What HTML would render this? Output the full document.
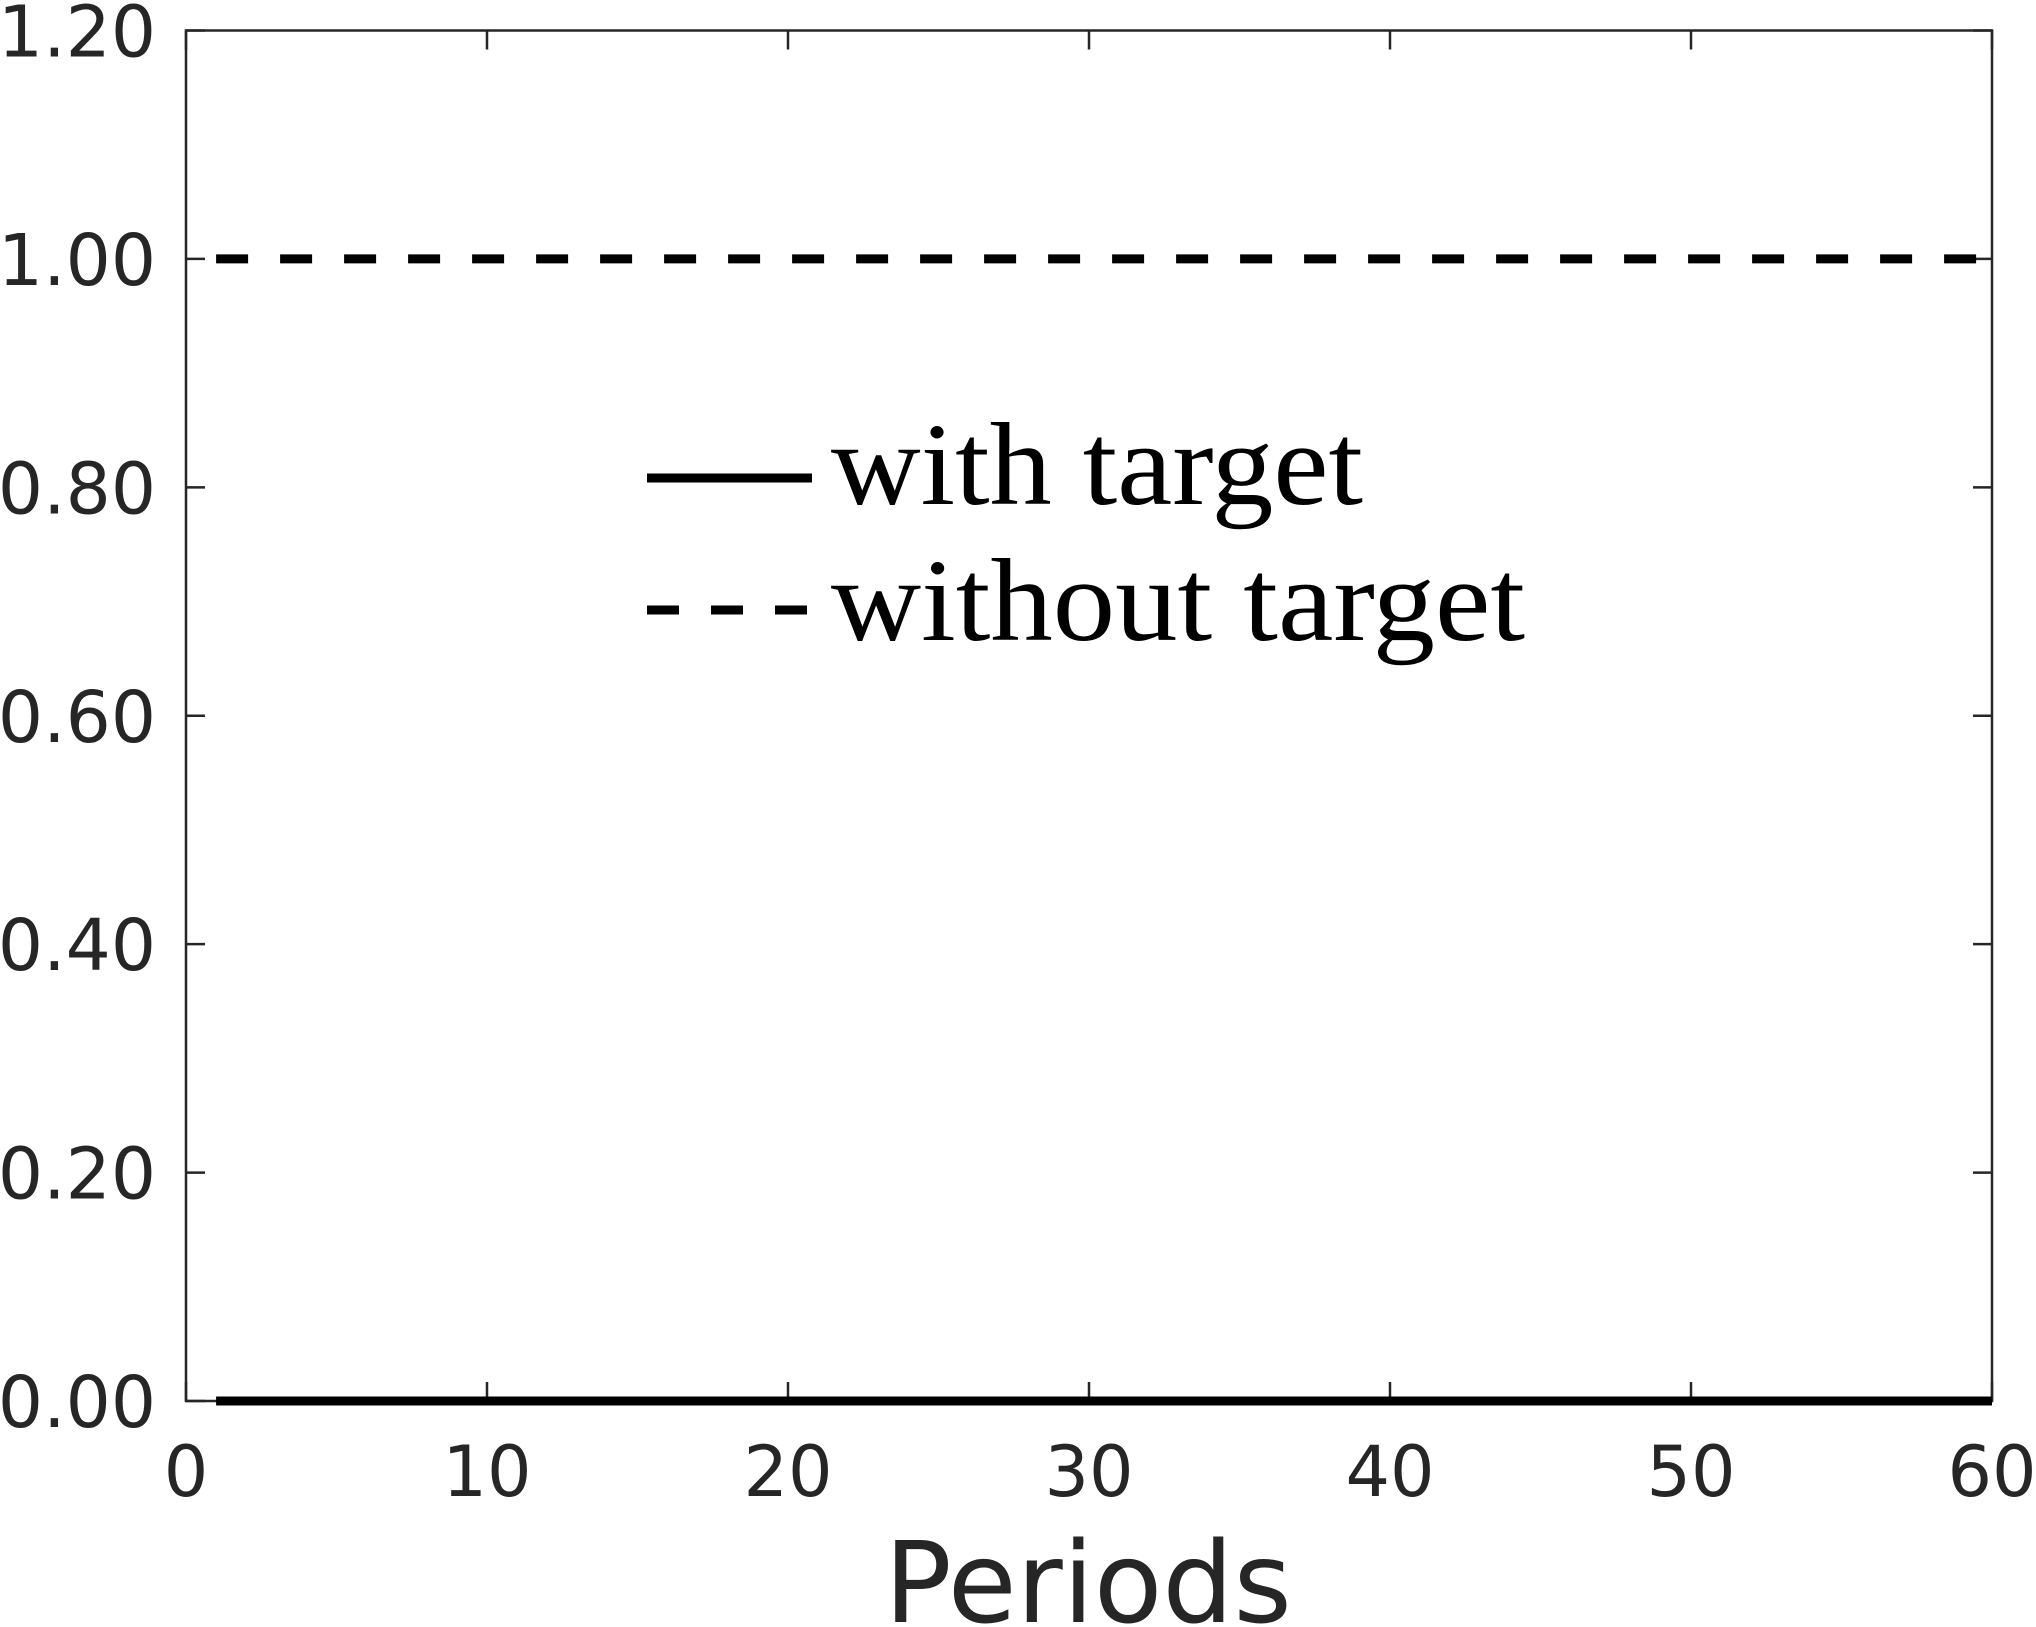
<!DOCTYPE html>
<html><head><meta charset="utf-8"><style>html,body{margin:0;padding:0;background:#fff}svg{display:block}</style></head>
<body>
<svg id="chart" width="2036" height="1627" viewBox="0 0 2036 1627" xmlns="http://www.w3.org/2000/svg">
<g id="axes"></g>
<g id="series"></g>
<g>
  <line x1="647" y1="478" x2="812" y2="478" stroke="#000" stroke-width="9"/>
  <text x="831" y="504" font-family="Liberation Serif, serif" font-size="118" textLength="532" lengthAdjust="spacingAndGlyphs">with target</text>
  <line x1="647" y1="610" x2="812" y2="610" stroke="#000" stroke-width="9" stroke-dasharray="32,32"/>
  <text x="831" y="640" font-family="Liberation Serif, serif" font-size="118" textLength="694" lengthAdjust="spacingAndGlyphs">without target</text>
</g>
<text x="1088" y="1622" text-anchor="middle" font-family="DejaVu Sans, sans-serif" font-size="112" fill="#262626">Periods</text>
</svg>
<script>
const xTicks = [0,10,20,30,40,50,60];
const yTicks = [0,0.2,0.4,0.6,0.8,1.0,1.2];
const yTickLabels = ["0.00","0.20","0.40","0.60","0.80","1.00","1.20"];
const periods = Array.from({length:60},(_,i)=>i+1);
const withTarget = periods.map(()=>0);
const withoutTarget = periods.map(()=>1);
const L=186,R=1992,T=30.5,B=1401;
const xs=v=>L+(v-0)/(60-0)*(R-L);
const ys=v=>B-(v-0)/(1.2-0)*(B-T);
const NS='http://www.w3.org/2000/svg';
const ax=document.getElementById('axes'), se=document.getElementById('series');
function mk(tag,attrs,parent){const e=document.createElementNS(NS,tag);for(const k in attrs)e.setAttribute(k,attrs[k]);parent.appendChild(e);return e;}
const box=mk('rect',{x:L,y:T,width:R-L,height:B-T,fill:'none',stroke:'#262626','stroke-width':2.5},ax);


xTicks.forEach(t=>{
  const x=xs(t);
  const a=mk('line',{x1:x,y1:B,x2:x,y2:B-19,stroke:'#262626','stroke-width':2.5},ax);
  
  
  const b=mk('line',{x1:x,y1:T,x2:x,y2:T+19,stroke:'#262626','stroke-width':2.5},ax);
  
  
  const tx=mk('text',{x:x,y:1496,'text-anchor':'middle','font-family':'DejaVu Sans, sans-serif','font-size':70,fill:'#262626'},ax);
  tx.textContent=t;
  
  
});
yTicks.forEach((t,i)=>{
  const y=ys(t);
  const a=mk('line',{x1:L,y1:y,x2:L+19,y2:y,stroke:'#262626','stroke-width':2.5},ax);
  
  
  const b=mk('line',{x1:R,y1:y,x2:R-19,y2:y,stroke:'#262626','stroke-width':2.5},ax);
  
  
  const tx=mk('text',{x:156,y:y+26,'text-anchor':'end','font-family':'DejaVu Sans, sans-serif','font-size':71,fill:'#262626'},ax);
  tx.textContent=yTickLabels[i];
  
  
});
function path(vals){return periods.map((p,i)=>(i?'L':'M')+xs(p)+','+ys(vals[i])).join(' ');}
const p2=mk('path',{d:path(withoutTarget),fill:'none',stroke:'#000','stroke-width':9,'stroke-dasharray':'32,32'},se);


const p1=mk('path',{d:path(withTarget),fill:'none',stroke:'#000','stroke-width':9},se);


</script>
</body></html>
